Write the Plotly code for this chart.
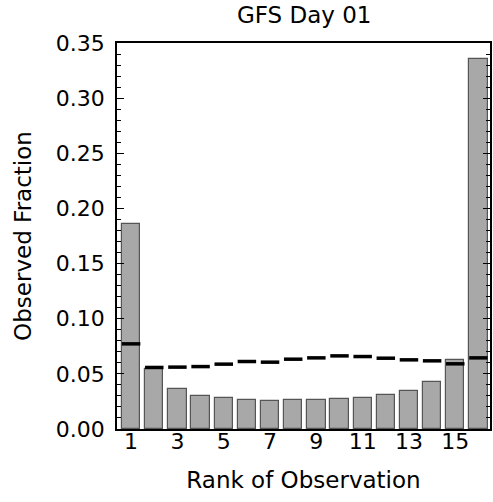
import plotly.graph_objects as go

# Data
ranks = list(range(1, 17))
observed = [0.1863, 0.0541, 0.0362, 0.0301, 0.0277, 0.0259, 0.0256, 0.0265,
            0.0259, 0.0271, 0.0277, 0.0310, 0.0347, 0.0425, 0.0624, 0.3357]
expected = [0.0772, 0.0558, 0.0561, 0.0566, 0.0588, 0.0612, 0.0606, 0.0633,
            0.0645, 0.0663, 0.0657, 0.0642, 0.0627, 0.0618, 0.0591, 0.0645]
xtick_vals = [1, 3, 5, 7, 9, 11, 13, 15]
ytick_vals = [0.00, 0.05, 0.10, 0.15, 0.20, 0.25, 0.30, 0.35]
ytick_text = ["0.00", "0.05", "0.10", "0.15", "0.20", "0.25", "0.30", "0.35"]

FONT = "DejaVu Sans"

fig = go.Figure()
fig.add_trace(go.Bar(
    x=ranks, y=observed, width=0.79,
    marker=dict(color="#a8a8a8", line=dict(color="#555555", width=1.2)),
    showlegend=False,
))
fig.add_trace(go.Scatter(
    x=ranks, y=expected, mode="markers",
    marker=dict(symbol="line-ew", size=13.2,
                line=dict(color="black", width=3.5)),
    showlegend=False,
))

fig.update_layout(
    width=493, height=502,
    margin=dict(l=117, r=1, t=43, b=73),
    paper_bgcolor="white", plot_bgcolor="white",
    font=dict(family=FONT, size=22, color="black"),
    title=dict(text="GFS Day 01", x=0.617, xanchor="center",
               y=1 - 15 / 502, yanchor="middle", yref="container",
               font=dict(family=FONT, size=23, color="black")),
    bargap=0,
)
fig.update_xaxes(
    range=[0.39, 16.5], tickvals=xtick_vals, ticktext=[str(v) for v in xtick_vals],
    ticks="", showgrid=False, zeroline=False,
    showline=True, mirror=True, linecolor="black", linewidth=1.5,
    tickfont=dict(family=FONT, size=22), ticklabelstandoff=-8,
    title=dict(text="Rank of Observation", standoff=19,
               font=dict(family=FONT, size=23)),
)
fig.update_yaxes(
    range=[0, 0.35], tickvals=ytick_vals, ticktext=ytick_text,
    ticks="inside", ticklen=7, tickwidth=1.3, tickcolor="black",
    minor=dict(dtick=0.01, ticks="inside", ticklen=4, tickwidth=1.1,
               tickcolor="black", showgrid=False),
    showgrid=False, zeroline=False,
    showline=True, mirror="ticks", linecolor="black", linewidth=1.5,
    tickfont=dict(family=FONT, size=22), ticklabelstandoff=6,
    title=dict(text="Observed Fraction", standoff=18,
               font=dict(family=FONT, size=23)),
)

fig.write_html("out.html")
